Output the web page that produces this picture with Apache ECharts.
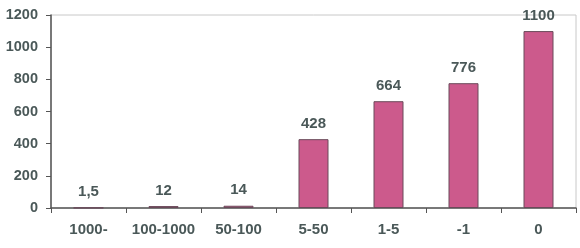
<!DOCTYPE html>
<html><head><meta charset="utf-8">
<script src="https://cdn.jsdelivr.net/npm/echarts@6/dist/echarts.min.js"></script>
<style>html,body{margin:0;padding:0;background:#fff}#c{width:580px;height:248px}</style>
</head><body><div id="c"></div>
<script>
const categories = ['1000-', '100-1000', '50-100', '5-50', '1-5', '-1', '0'];
const values = [1.5, 12, 14, 428, 664, 776, 1100];
const valueLabels = ['1,5', '12', '14', '428', '664', '776', '1100'];
const yTicks = [0, 200, 400, 600, 800, 1000, 1200];

const txt = '#4a5858';
const font = 'Liberation Sans, Arial';
const chart = echarts.init(document.getElementById('c'), null, {renderer: 'canvas'});
chart.setOption({
  animation: false,
  backgroundColor: '#fff',
  grid: {left: 51, top: 15, right: 4, bottom: 40, show: true, borderColor: '#c8c8c8', borderWidth: 1},
  xAxis: {
    type: 'category', data: categories,
    axisLine: {lineStyle: {color: '#555', width: 1.5}},
    axisTick: {show: true, interval: 0, alignWithLabel: false, length: 5, lineStyle: {color: '#555'}},
    axisLabel: {interval: 0, hideOverlap: false, color: txt, fontFamily: font, fontWeight: 'bold', fontSize: 15, margin: 14}
  },
  yAxis: {
    type: 'value', min: 0, max: 1200, interval: 200,
    axisLine: {show: true, lineStyle: {color: '#555', width: 1.5}},
    axisTick: {show: true, length: 5, lineStyle: {color: '#555'}},
    splitLine: {show: false},
    axisLabel: {color: txt, fontFamily: font, fontWeight: 'bold', fontSize: 14.5, margin: 13,
      formatter: v => yTicks.includes(v) ? String(v) : ''}
  },
  series: [{
    type: 'bar', data: values, barWidth: 30,
    itemStyle: {color: '#cc5a8c', borderColor: '#6a4a5a', borderWidth: 1},
    label: {show: true, position: 'top', distance: 8, color: txt, fontFamily: font, fontWeight: 'bold', fontSize: 15,
      formatter: p => valueLabels[p.dataIndex]}
  }]
});
</script></body></html>
